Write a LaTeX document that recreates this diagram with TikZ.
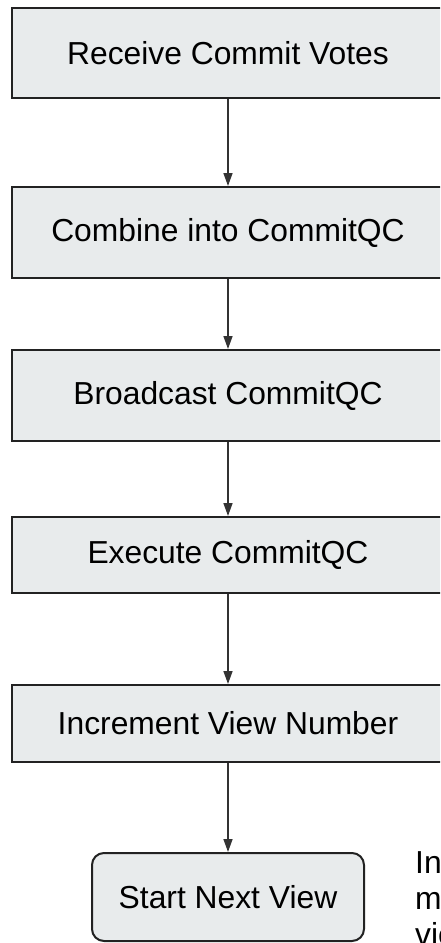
\documentclass[tikz,border=0pt]{standalone}
\usepackage{fontspec}
\setmainfont{Liberation Sans}
\usetikzlibrary{arrows.meta}
\definecolor{boxfill}{HTML}{E8EBEC}
\definecolor{boxline}{HTML}{222222}
\definecolor{arrowline}{HTML}{333333}
\begin{document}
\begin{tikzpicture}[x=1pt,y=-1pt,
  stepbox/.style={draw=boxline, fill=boxfill, line width=2pt, inner sep=0pt,
    minimum width=432pt, font=\fontsize{31.8}{37}\selectfont, text=black},
  endbox/.style={stepbox, rounded corners=12pt, minimum width=272pt},
  flow/.style={draw=arrowline, line width=1.5pt,
    -{Triangle[length=13pt,width=9pt]}}]
  \useasboundingbox (0,0) rectangle (440,943);
  \clip (0,0) rectangle (440,943);

  % process steps
  \node[stepbox, minimum height=90pt] (recv) at (228,53) {Receive Commit Votes};
  \node[stepbox, minimum height=91pt] (comb) at (228,232.5) {Combine into CommitQC};
  \node[stepbox, minimum height=91pt] (bcast) at (228,395.5) {Broadcast CommitQC};
  \node[stepbox, minimum height=76pt] (exec) at (228,555) {Execute CommitQC};
  \node[stepbox, minimum height=77pt] (incr) at (228,723.5) {Increment View Number};
  \node[endbox, minimum height=88pt] (next) at (228,897) {Start Next View};

  % side note, running off the right edge (baseline of its last line)
  \node[anchor=base west, align=left, inner sep=0pt,
    font=\fontsize{31.8}{36}\selectfont] (note) at (415,945) {In\\m\\vie};

  % connectors
  \draw[flow] (recv) -- (comb);
  \draw[flow] (comb) -- (bcast);
  \draw[flow] (bcast) -- (exec);
  \draw[flow] (exec) -- (incr);
  \draw[flow] (incr) -- (next);
\end{tikzpicture}
\end{document}
